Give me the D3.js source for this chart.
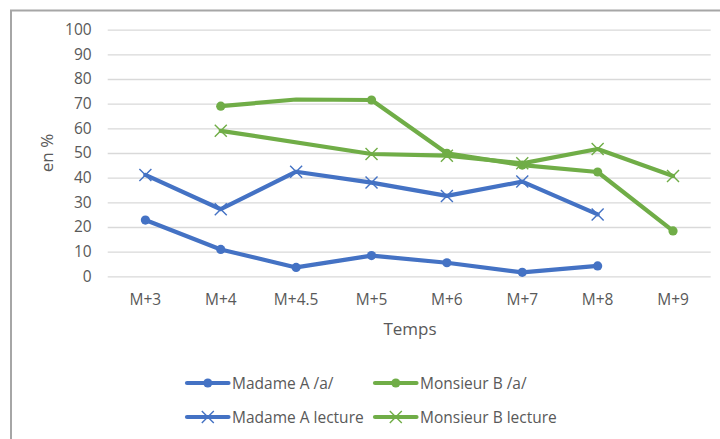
<!DOCTYPE html>
<html>
<head>
<meta charset="utf-8">
<script src="https://cdn.jsdelivr.net/npm/d3@7/dist/d3.min.js"></script>
<style>
  html, body { margin: 0; padding: 0; background: #fff; }
  svg { display: block; }
  text { font-family: "Open Sans", "Noto Sans", sans-serif; fill: #595959; }
</style>
</head>
<body>
<script>
// ---------- data ----------
const categories = ["M+3", "M+4", "M+4.5", "M+5", "M+6", "M+7", "M+8", "M+9"];
const madameA_a       = [22.8, 10.9, 3.6, 8.4, 5.5, 1.6, 4.2, null];
const monsieurB_a     = [null, 69.0, 71.7, 71.5, 49.9, 45.1, 42.3, 18.4];
const madameA_lecture = [41.1, 27.2, 42.4, 38.0, 32.6, 38.4, 25.1, null];
const monsieurB_lecture = [null, 59.0, null, 49.6, 48.9, 45.8, 51.6, 40.7];
const yTicks = [0, 10, 20, 30, 40, 50, 60, 70, 80, 90, 100];
const seriesNames = ["Madame A /a/", "Monsieur B /a/", "Madame A lecture", "Monsieur B lecture"];
const noMarker = [["Monsieur B /a/", "M+4.5"]];

const series = [
  { name: seriesNames[0], values: madameA_a, color: "#4472C4", marker: "circle" },
  { name: seriesNames[1], values: monsieurB_a, color: "#70AD47", marker: "circle" },
  { name: seriesNames[2], values: madameA_lecture, color: "#4472C4", marker: "x" },
  { name: seriesNames[3], values: monsieurB_lecture, color: "#70AD47", marker: "x" }
];

// ---------- layout ----------
const W = 720, H = 439;
const plot = { left: 107.7, right: 710.7, top: 29.7, bottom: 276.3 };

const svg = d3.select("body").append("svg").attr("width", W).attr("height", H);

// chart frame
svg.append("rect").attr("x", 11).attr("y", 10.5).attr("width", 760).attr("height", 500)
  .attr("fill", "none").attr("stroke", "#a6a6a6").attr("stroke-width", 2);

const x = d3.scaleBand().domain(categories).range([plot.left, plot.right]);
const xc = c => x(c) + x.bandwidth() / 2;
const y = d3.scaleLinear().domain([0, 100]).range([plot.bottom, plot.top]);

// gridlines
const yAxis = d3.axisLeft(y).tickValues(yTicks).tickSize(-(plot.right - plot.left)).tickPadding(16);
const gy = svg.append("g").attr("transform", `translate(${plot.left},0)`).call(yAxis);
gy.select(".domain").remove();
gy.selectAll(".tick line").attr("stroke", "#d9d9d9").attr("stroke-width", 1.3);
gy.selectAll(".tick text").attr("font-size", "15.5px").attr("fill", "#595959")
  .attr("font-family", "'Open Sans', sans-serif");

// x axis labels
const xAxis = d3.axisBottom(x).tickSize(0).tickPadding(0);
const gx = svg.append("g").attr("transform", `translate(0,${plot.bottom})`).call(xAxis);
gx.select(".domain").remove();
gx.selectAll(".tick text").attr("font-size", "15.5px").attr("fill", "#595959")
  .attr("font-family", "'Open Sans', sans-serif")
  .attr("dy", null).attr("y", 29);

// axis titles
svg.append("text").attr("x", 410).attr("y", 335).attr("text-anchor", "middle")
  .attr("font-size", "17px").text("Temps");
svg.append("text").attr("transform", "translate(53,153) rotate(-90)")
  .attr("text-anchor", "middle").attr("font-size", "17px").text("en %");

// lines
const lineGen = d3.line()
  .defined(d => d.v !== null)
  .x(d => xc(d.c)).y(d => y(d.v));

function xPath(s) {
  return `M${-s},${-s}L${s},${s}M${-s},${s}L${s},${-s}`;
}

series.forEach(s => {
  const pts = categories.map((c, i) => ({ c, v: s.values[i] })).filter(d => d.v !== null);
  svg.append("path").datum(pts)
    .attr("d", lineGen)
    .attr("fill", "none").attr("stroke", s.color).attr("stroke-width", 4.2)
    .attr("stroke-linejoin", "round").attr("stroke-linecap", "round");
  const mk = pts.filter(d => !noMarker.some(n => n[0] === s.name && n[1] === d.c));
  if (s.marker === "circle") {
    svg.selectAll(null).data(mk).enter().append("circle")
      .attr("cx", d => xc(d.c)).attr("cy", d => y(d.v)).attr("r", 4.6)
      .attr("fill", s.color);
  } else {
    svg.selectAll(null).data(mk).enter().append("path")
      .attr("transform", d => `translate(${xc(d.c)},${y(d.v)})`)
      .attr("d", xPath(6)).attr("stroke", s.color).attr("stroke-width", 1.4).attr("fill", "none");
  }
});

// legend
const legendPos = [
  { x: 187, y: 383 }, { x: 375, y: 383 },
  { x: 187, y: 417 }, { x: 375, y: 417 }
];
series.forEach((s, i) => {
  const p = legendPos[i];
  const g = svg.append("g").attr("transform", `translate(${p.x},${p.y})`);
  g.append("line").attr("x1", 0).attr("x2", 41.5).attr("y1", 0).attr("y2", 0)
    .attr("stroke", s.color).attr("stroke-width", 4.2).attr("stroke-linecap", "round");
  if (s.marker === "circle") {
    g.append("circle").attr("cx", 20.8).attr("cy", 0).attr("r", 4.6).attr("fill", s.color);
  } else {
    g.append("path").attr("transform", "translate(20.8,0)").attr("d", xPath(6))
      .attr("stroke", s.color).attr("stroke-width", 1.4);
  }
  g.append("text").attr("x", 45).attr("y", 0).attr("dy", "0.36em")
    .attr("font-size", "15.5px").text(s.name);
});
</script>
</body>
</html>
